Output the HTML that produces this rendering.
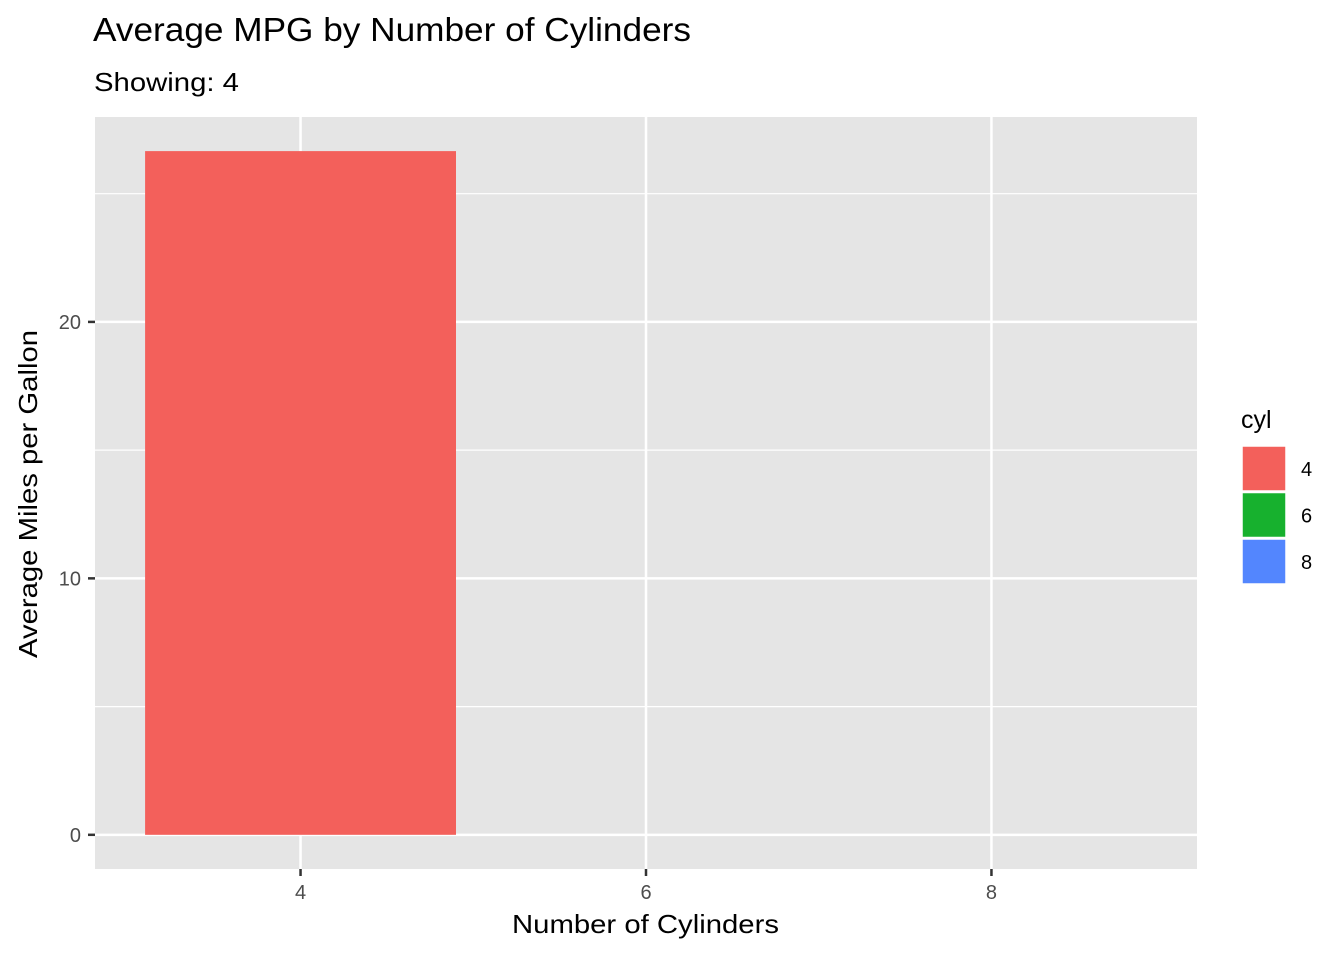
<!DOCTYPE html>
<html><head><meta charset="utf-8"><style>
body{margin:0;background:#fff;}
svg{display:block;font-family:"Liberation Sans",Arial,sans-serif;}
</style></head><body>
<svg id="c" width="1344" height="960">
<rect x="0" y="0" width="1344" height="960" fill="#fff"/>
<text x="93" y="41" font-size="33" textLength="598" lengthAdjust="spacingAndGlyphs" fill="#000">Average MPG by Number of Cylinders</text>
<text x="94" y="91" font-size="26" textLength="145" lengthAdjust="spacingAndGlyphs" fill="#000">Showing: 4</text>
<rect x="95" y="117" width="1102" height="752" fill="#e5e5e5"/>
<g id="grid"></g>
<g id="bars"></g>
<g id="axes"></g>
<text x="512" y="933" font-size="26" textLength="267" lengthAdjust="spacingAndGlyphs" fill="#000">Number of Cylinders</text>
<text transform="translate(37,658) rotate(-90)" font-size="26" textLength="328" lengthAdjust="spacingAndGlyphs" fill="#000">Average Miles per Gallon</text>
<g id="legend"></g>
</svg>
<script>
const categories=[4,6,8];
const values=[26.66,null,null];
const colors=["#f8766d","#00ba38","#619cff"];
const barColors=["#f3605b"];
const legendColors=["#f3605b","#17b12e","#5386fe"];
const xTicks=[4,6,8];
const yTicks=[0,10,20];
const yMinor=[5,15,25];
const NS="http://www.w3.org/2000/svg";
const PX0=95,PX1=1197,PY0=117,PY1=869;
const xMin=2.81,xMax=9.19,yMin=-1.333,yMax=27.99;
const sx=v=>PX0+(v-xMin)/(xMax-xMin)*(PX1-PX0);
const sy=v=>PY1-(v-yMin)/(yMax-yMin)*(PY1-PY0);
function mk(t,a,p){const e=document.createElementNS(NS,t);for(const k in a)e.setAttribute(k,a[k]);p.appendChild(e);return e;}
const grid=document.getElementById('grid'),bars=document.getElementById('bars'),axes=document.getElementById('axes'),legend=document.getElementById('legend');
yMinor.forEach(v=>{const l=mk('line',{x1:PX0,x2:PX1,y1:sy(v),y2:sy(v),stroke:'#fff','stroke-width':1.2},grid);

});
yTicks.forEach(v=>{const l=mk('line',{x1:PX0,x2:PX1,y1:sy(v),y2:sy(v),stroke:'#fff','stroke-width':2.5},grid);


const t=mk('line',{x1:88,x2:95,y1:sy(v),y2:sy(v),stroke:'#333','stroke-width':2.5},axes);


const tx=mk('text',{x:81,y:sy(v)+7,'font-size':20,'text-anchor':'end',fill:'#4d4d4d'},axes);tx.textContent=v;

});
xTicks.forEach(v=>{const l=mk('line',{x1:sx(v),x2:sx(v),y1:PY0,y2:PY1,stroke:'#fff','stroke-width':2.5},grid);


const t=mk('line',{x1:sx(v),x2:sx(v),y1:PY1,y2:PY1+7,stroke:'#333','stroke-width':2.5},axes);


const tx=mk('text',{x:sx(v),y:PY1+30,'font-size':20,'text-anchor':'middle',fill:'#4d4d4d'},axes);tx.textContent=v;

});
categories.forEach((c,i)=>{if(values[i]==null)return;
const r=mk('rect',{x:sx(c-0.9),y:sy(values[i]),width:sx(c+0.9)-sx(c-0.9),height:sy(0)-sy(values[i]),fill:barColors[i]||colors[i]},bars);

});
const lt=mk('text',{x:1241,y:428,'font-size':25,fill:'#000'},legend);lt.textContent='cyl';


categories.forEach((c,i)=>{const y=446+i*46.5;
const g=mk('g',{},legend);


mk('rect',{x:1242,y:y,width:44,height:45,fill:legendColors[i],stroke:'#fff','stroke-width':1.5},g);
const t=mk('text',{x:1301,y:y+30,'font-size':20,fill:'#000'},g);t.textContent=c;});
</script>
</body></html>
